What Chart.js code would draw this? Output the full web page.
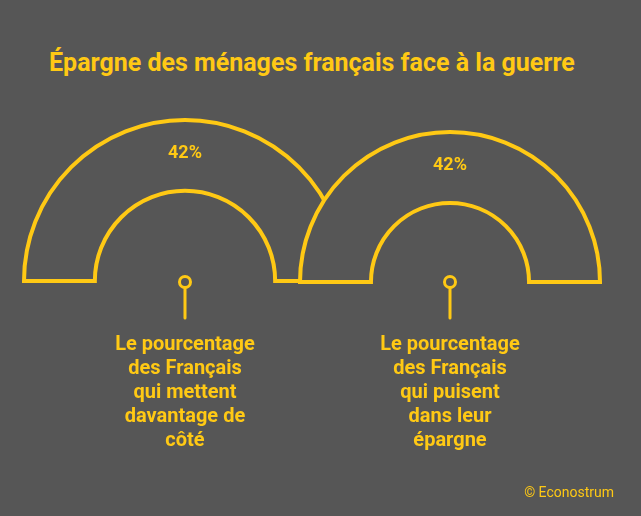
<!DOCTYPE html>
<html>
<head>
<meta charset="utf-8">
<script src="https://cdn.jsdelivr.net/npm/chart.js@4"></script>
<style>
    html, body { margin: 0; padding: 0; }
    body {
        width: 641px; height: 516px; overflow: hidden; position: relative;
        background-color: #565656;
        font-family: Roboto, "Noto Sans", sans-serif;
        color: #ffc914;
    }
    .title { position: absolute; left: 49px; top: 48px; font-size: 25px; font-weight: 700; white-space: nowrap; }
    .gauge { position: absolute; }
    .label { position: absolute; top: 331px; width: 220px; text-align: center; font-size: 20px; font-weight: 700; line-height: 24px; }
    .credit { position: absolute; right: 27px; top: 484px; font-size: 14px; }
    svg { position: absolute; left: 0; top: 0; }
</style>
</head>
<body>
<div class="title">Épargne des ménages français face à la guerre</div>

<canvas id="gaugeLeft" class="gauge" width="334" height="173" style="left:18px;top:114px"></canvas>
<canvas id="gaugeRight" class="gauge" width="312" height="162" style="left:294px;top:126px"></canvas>

<svg width="641" height="516">
    <g stroke="#ffc914" stroke-width="3" fill="none" stroke-linecap="round">
        <circle cx="185" cy="282" r="5.5"></circle>
        <line x1="185" y1="287.5" x2="185" y2="318"></line>
        <circle cx="450" cy="282" r="5.5"></circle>
        <line x1="450" y1="287.5" x2="450" y2="318"></line>
    </g>
</svg>

<div class="label" style="left:75px">Le pourcentage<br>des Français<br>qui mettent<br>davantage de<br>côté</div>
<div class="label" style="left:340px">Le pourcentage<br>des Français<br>qui puisent<br>dans leur<br>épargne</div>

<div class="credit">© Econostrum</div>

<script>
const categories = ['Français qui mettent davantage de côté', 'Français qui puisent dans leur épargne'];
const values = [42, 42];

const yellow = '#ffc914';
const background = '#565656';

// draws the percentage inside the ring
const valueLabel = {
    id: 'valueLabel',
    afterDatasetsDraw(chart) {
        const arc = chart.getDatasetMeta(0).data[0];
        const { x, y, innerRadius, outerRadius } = arc.getProps(['x', 'y', 'innerRadius', 'outerRadius'], true);
        const ctx = chart.ctx;
        ctx.save();
        ctx.fillStyle = yellow;
        ctx.font = 'bold 18px Roboto';
        ctx.textAlign = 'center';
        ctx.textBaseline = 'middle';
        ctx.fillText(chart.data.datasets[0].data[0] + '%', x, y - (innerRadius + outerRadius) / 2 - 2);
        ctx.restore();
    },
};

function createGauge(id, index, radius, cutout) {
    const ctx = document.getElementById(id).getContext('2d');
    return new Chart(ctx, {
        type: 'doughnut',
        data: {
            labels: [categories[index]],
            datasets: [{
                data: [values[index]],
                backgroundColor: background,
                borderColor: yellow,
                borderWidth: 4,
                borderJoinStyle: 'miter',
            }],
        },
        options: {
            responsive: false,
            animation: false,
            rotation: -90,
            circumference: 180,
            radius: radius,
            cutout: cutout,
            layout: { padding: 6 },
            plugins: { legend: { display: false }, tooltip: { enabled: false } },
        },
        plugins: [valueLabel],
    });
}

createGauge('gaugeLeft', 0, 161, '56%');
createGauge('gaugeRight', 1, 150, '52.7%');
</script>
</body>
</html>
